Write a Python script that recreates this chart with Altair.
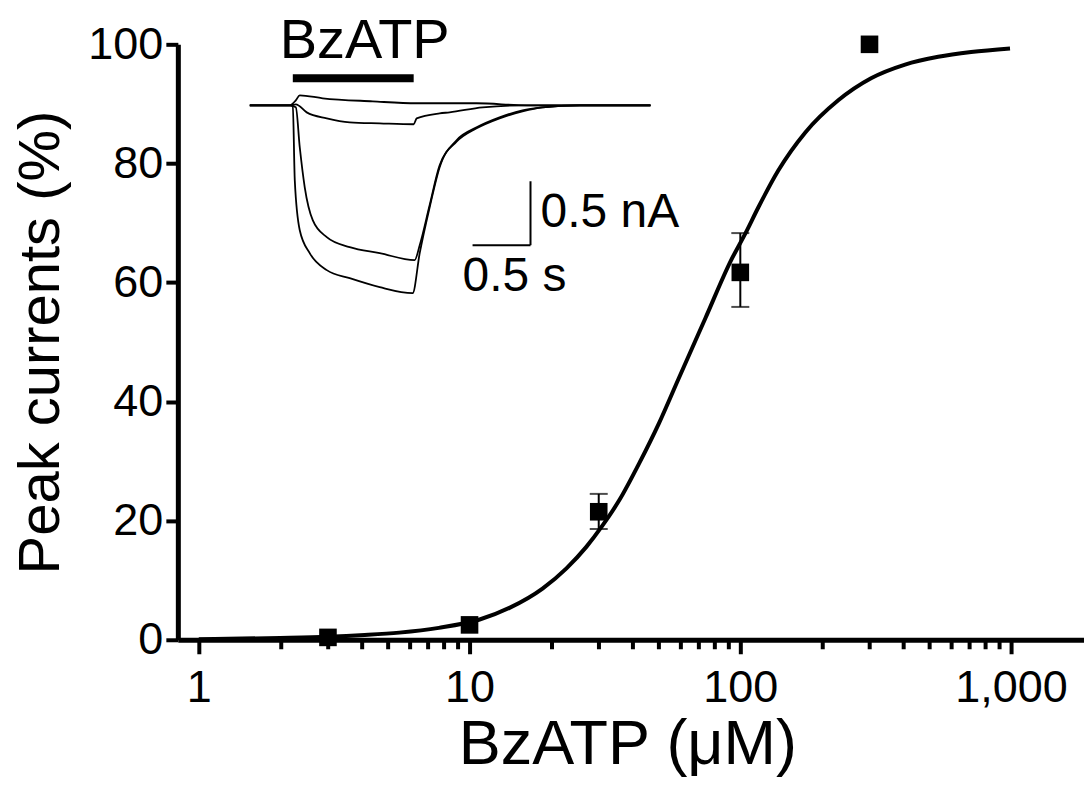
import altair as alt
import pandas as pd

# ---- main dose-response data ----
dose = [3, 10, 30, 100, 300]
peak = [0.4, 2.5, 21.5, 61.7, 100.0]
err_dose = [30, 100]
err_lo = [18.6, 55.9]
err_hi = [24.5, 68.3]

# fitted curve
fit_dose = [1.0, 2.0, 3.0, 4.1, 5.5, 7.7, 10.9, 14.1, 18.6, 22.8, 27.0, 31.0, 35.8,
            42.4, 50.0, 59.1, 74.3, 92.6, 104.3, 116.5, 138.1, 173.8, 230, 304,
            406, 538, 712, 991]
fit_pct = [0.1, 0.3, 0.5, 0.8, 1.2, 2.0, 3.4, 5.4, 8.6, 12.0, 15.6, 19.2, 23.5,
           29.7, 36.3, 43.8, 54.0, 63.8, 68.2, 72.6, 78.8, 85.2, 90.6, 94.3,
           96.6, 97.9, 98.7, 99.3]

# ---- inset current traces (time s, current nA) ----
tr4_t = [0, 0.345, 0.371, 0.388, 0.431, 0.517, 0.664, 0.862, 1.121, 1.405, 1.466, 1.552,
         1.638, 1.784, 1.957, 2.155, 2.353, 2.526, 2.845, 3.457]
tr4_i = [0, 0, -0.008, -0.586, -0.977, -1.156, -1.289, -1.352, -1.422, -1.469, -1.156,
         -0.797, -0.484, -0.273, -0.172, -0.094, -0.039, -0.016, 0, 0]
tr3_t = [0, 0.345, 0.397, 0.431, 0.474, 0.543, 0.664, 0.862, 1.121, 1.422, 1.466, 1.552,
         1.638, 1.784, 1.957, 2.155, 2.353, 2.526, 2.845, 3.457]
tr3_i = [0, 0, -0.016, -0.328, -0.641, -0.898, -1.031, -1.109, -1.156, -1.211, -1.094,
         -0.78, -0.47, -0.285, -0.18, -0.102, -0.047, -0.016, 0, 0]
tr2_t = [0, 0.345, 0.397, 0.491, 0.664, 0.862, 1.121, 1.414, 1.440, 1.638, 1.724, 2.009,
         2.388, 3.457]
tr2_i = [0, 0, 0.008, -0.055, -0.102, -0.133, -0.141, -0.148, -0.102, -0.063, -0.055,
         -0.016, 0, 0]
tr1_t = [0, 0.345, 0.397, 0.431, 0.629, 1.060, 1.440, 1.638, 1.957, 2.388, 3.457]
tr1_i = [0, 0, 0.039, 0.078, 0.055, 0.031, 0.016, 0.016, 0.016, 0, 0]

# inset annotations (in inset units)
drug_bar_t = [0.371, 1.414]
drug_bar_i = 0.211
sb_corner_t = 2.422
sb_corner_i = -1.094
sb_time = 0.5
sb_current = 0.5
inset_labels = ["BzATP", "0.5 nA", "0.5 s"]
inset_label_t = [0.991, 2.509, 1.836]
inset_label_i = [0.50, -0.844, -1.344]
inset_label_align = ["center", "left", "left"]
inset_label_size = [56, 48, 48]

x_ticks = [1, 2, 3, 4, 5, 6, 7, 8, 9, 10, 20, 30, 40, 50, 60, 70, 80, 90, 100,
           200, 300, 400, 500, 600, 700, 800, 900, 1000]

FONT = "Liberation Sans"

pts = pd.DataFrame({"dose": dose, "peak": peak})
errs = pd.DataFrame({"dose": err_dose, "lo": err_lo, "hi": err_hi})
fit = pd.DataFrame({"dose": fit_dose, "pct": fit_pct})

xscale = alt.Scale(type="log", domain=[0.837, 1859], nice=False)
yscale = alt.Scale(domain=[0, 100], nice=False)

xaxis = alt.Axis(
    orient="bottom",
    values=x_ticks,
    labelExpr="indexof([1,10,100,1000], datum.value) >= 0 ? format(datum.value, ',') : ''",
    tickSize={"condition": {"test": "indexof([1,10,100,1000], datum.value) >= 0", "value": 14}, "value": 9},
    tickWidth=4, tickColor="black", domainWidth=5, domainColor="black",
    labelFont=FONT, labelFontSize=45, labelColor="black", labelPadding=12,
    labelFlush=False, labelOverlap=False,
    title="BzATP (μM)", titleFont=FONT, titleFontSize=63, titleFontWeight="normal",
    titleColor="black", titleX=450, titleY=105, titleBaseline="middle", titleAlign="center",
    grid=False,
)
yaxis = alt.Axis(
    orient="left",
    values=[0, 20, 40, 60, 80, 100],
    tickSize=12, tickWidth=4, tickColor="black", domainWidth=5, domainColor="black",
    labelFont=FONT, labelFontSize=45, labelColor="black", labelPadding=3,
    labelFlush=False,
    title="Peak currents (%)", titleFont=FONT, titleFontSize=58, titleFontWeight="normal",
    titleColor="black", titleX=-136, titleY=298, titleBaseline="middle", titleAlign="center",
    titleAngle=-90, grid=False,
)

# main panel: only the curve carries the axes; every layer uses the same explicit scales
curve = alt.Chart(fit).mark_line(color="black", strokeWidth=4, interpolate="monotone").encode(
    x=alt.X("dose:Q", scale=xscale, axis=xaxis),
    y=alt.Y("pct:Q", scale=yscale, axis=yaxis),
)
stems = alt.Chart(errs).mark_rule(color="black", strokeWidth=2).encode(
    x=alt.X("dose:Q", scale=xscale, axis=None),
    y=alt.Y("lo:Q", scale=yscale, axis=None), y2="hi:Q")
caps_lo = alt.Chart(errs).mark_tick(color="black", orient="horizontal", size=18, thickness=2).encode(
    x=alt.X("dose:Q", scale=xscale, axis=None),
    y=alt.Y("lo:Q", scale=yscale, axis=None))
caps_hi = alt.Chart(errs).mark_tick(color="black", orient="horizontal", size=18, thickness=2).encode(
    x=alt.X("dose:Q", scale=xscale, axis=None),
    y=alt.Y("hi:Q", scale=yscale, axis=None))
squares = alt.Chart(pts).mark_square(color="black", size=310, opacity=1).encode(
    x=alt.X("dose:Q", scale=xscale, axis=None),
    y=alt.Y("peak:Q", scale=yscale, axis=None))

# ---- inset ----
rows = []
for name, ts, cs in [("t1", tr1_t, tr1_i), ("t2", tr2_t, tr2_i), ("t3", tr3_t, tr3_i), ("t4", tr4_t, tr4_i)]:
    for k, (t, c) in enumerate(zip(ts, cs)):
        rows.append({"trace": name, "order": k, "t": t, "i": c})
traces = pd.DataFrame(rows)

ix = alt.Scale(domain=[-0.621, 7.198], nice=False, zero=False)
iy = alt.Scale(domain=[-4.180, 0.477], nice=False, zero=False)

trace_lines = alt.Chart(traces).mark_line(color="black", strokeWidth=1.8, interpolate="monotone").encode(
    x=alt.X("t:Q", scale=ix, axis=None),
    y=alt.Y("i:Q", scale=iy, axis=None),
    detail="trace:N", order="order:Q",
)
bars = pd.DataFrame({
    "t": [drug_bar_t[0], sb_corner_t - sb_time, sb_corner_t],
    "t2": [drug_bar_t[1], sb_corner_t, sb_corner_t],
    "i": [drug_bar_i, sb_corner_i, sb_corner_i],
    "i2": [drug_bar_i, sb_corner_i, sb_corner_i + sb_current],
    "w": [8, 2, 2],
})
bar_rules = alt.Chart(bars).mark_rule(color="black").encode(
    x=alt.X("t:Q", scale=ix, axis=None), x2="t2:Q",
    y=alt.Y("i:Q", scale=iy, axis=None), y2="i2:Q",
    strokeWidth=alt.StrokeWidth("w:Q", scale=None, legend=None),
)
labs = pd.DataFrame({"text": inset_labels, "t": inset_label_t, "i": inset_label_i})
text_layers = []
for k in range(len(inset_labels)):
    text_layers.append(
        alt.Chart(labs.iloc[[k]]).mark_text(
            font=FONT, fontSize=inset_label_size[k], align=inset_label_align[k],
            baseline="middle", color="black").encode(
            x=alt.X("t:Q", scale=ix, axis=None),
            y=alt.Y("i:Q", scale=iy, axis=None),
            text="text:N")
    )

chart = alt.layer(
    curve, stems, caps_lo, caps_hi, squares, trace_lines, bar_rules, *text_layers
).resolve_scale(x="independent", y="independent").properties(
    width=907, height=596,
    padding={"left": 170, "top": 36, "right": 0, "bottom": 145},
    autosize=alt.AutoSizeParams(type="none"),
    view=alt.ViewBackground(stroke="transparent", strokeWidth=0),
).configure_view(stroke="transparent", strokeWidth=0).configure_axis(grid=False
).configure(background="white")

chart.save("out.html", embed_options={"renderer": "svg", "actions": False})
